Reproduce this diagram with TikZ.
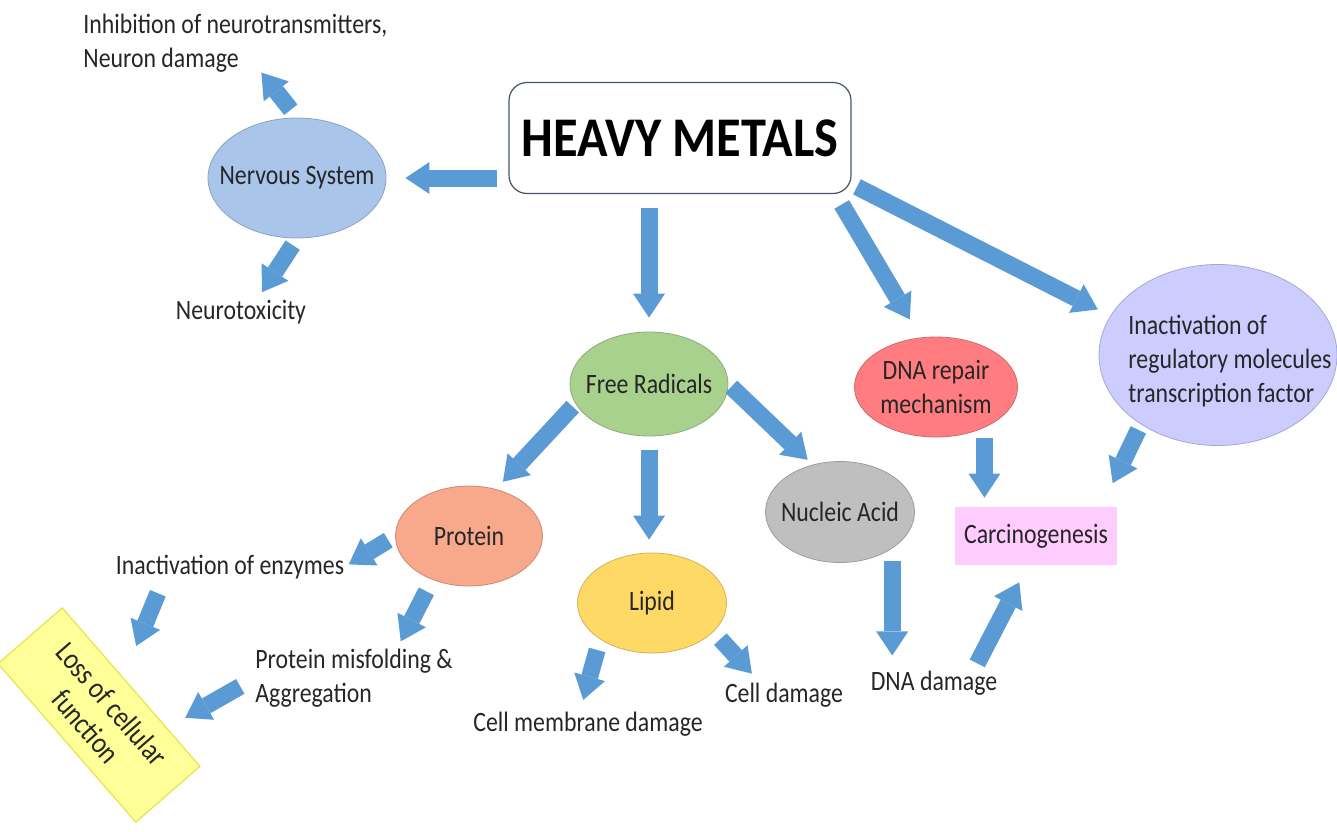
\documentclass[tikz,border=0pt]{standalone}
\usepackage{fontspec}
\setmainfont[FakeStretch=0.85]{Carlito}
\newfontfamily\headfont[FakeStretch=0.9]{Carlito}
\usetikzlibrary{arrows.meta,shapes.geometric}
\definecolor{arrowblue}{HTML}{5B9BD5}
\definecolor{txtgray}{HTML}{262626}
\definecolor{hmline}{HTML}{44546A}
\definecolor{nsblue}{HTML}{A9C6EA}
\definecolor{frgreen}{HTML}{A9D18E}
\definecolor{dnared}{HTML}{FF7C80}
\definecolor{inactlav}{HTML}{CCCCFF}
\definecolor{protsal}{HTML}{F8A98B}
\definecolor{lipidyel}{HTML}{FFD966}
\definecolor{nuclgray}{HTML}{BFBFBF}
\definecolor{carcpink}{HTML}{FFCCFF}
\definecolor{lossyel}{HTML}{FFFF99}
\definecolor{lossline}{HTML}{E5E54A}
\tikzset{every node/.style={text=txtgray,font=\fontsize{14}{17}\selectfont},
  blob/.style={ellipse,inner sep=0pt,fill=#1,draw=#1!82!black,line width=.4pt},
  plain/.style={inner sep=0pt},
  hmbox/.style={rectangle,rounded corners=9pt,draw=hmline,line width=.6pt,fill=white,
    minimum width=171pt,minimum height=55.5pt,text=black,
    font=\headfont\bfseries\fontsize{28}{30}\selectfont},
  flow/.style={-{Triangle[width=16pt,length=12pt,line width=0pt]},line width=8.5pt,draw=arrowblue}}

\begin{document}
\begin{tikzpicture}[x=0.5pt,y=-0.5pt]
  \useasboundingbox (0,0) rectangle (1337,831);
  % source box
  \node[hmbox] (hm) at (680,138) {HEAVY METALS};
  % nervous system branch
  \node[blob=nsblue,minimum width=89pt,minimum height=60pt,label=center:Nervous System] (nerv) at (297,178) {};
  \node[plain,align=left,anchor=west] (inhib) at (83,43) {Inhibition of neurotransmitters,\\Neuron damage};
  \node[plain] (ntox) at (241,312) {Neurotoxicity};
  % second row
  \node[blob=frgreen,minimum width=79pt,minimum height=52pt,label=center:Free Radicals] (frad) at (649,384) {};
  \node[blob=dnared,minimum width=81.5pt,minimum height=50pt,label={[align=center]center:DNA repair\\mechanism}] (dnarep) at (936,387) {};
  \node[blob=inactlav,minimum width=119pt,minimum height=90.5pt,
    label={[align=left,xshift=6pt,yshift=-3pt]center:Inactivation of\\regulatory molecules\\transcription factor}] (inact) at (1218,355) {};
  \node[rectangle,fill=carcpink,minimum width=81pt,minimum height=29pt] (carc) at (1036,536) {Carcinogenesis};
  % third row
  \node[blob=protsal,minimum width=73.5pt,minimum height=50pt,label=center:Protein] (prot) at (469,536) {};
  \node[blob=lipidyel,minimum width=74.5pt,minimum height=50pt,label=center:Lipid] (lipid) at (652,603) {};
  \node[blob=nuclgray,minimum width=74.5pt,minimum height=50.5pt,label=center:Nucleic Acid] (nucl) at (840,512) {};
  % outcomes
  \node[plain] (dnadmg) at (934,683) {DNA damage};
  \node[plain] (enz) at (230,567) {Inactivation of enzymes};
  \node[plain,align=left,anchor=west] (misf) at (255,678) {Protein misfolding \&\\Aggregation};
  \node[plain] (memb) at (588,724) {Cell membrane damage};
  \node[plain] (celldmg) at (784,695) {Cell damage};
  \node[rectangle,rotate=-49,fill=lossyel,draw=lossline,line width=.6pt,minimum width=105pt,minimum height=42.5pt,
    align=center,font=\fontsize{15}{17}\selectfont] (loss) at (99,715) {Loss of cellular\\function};
  % arrows
  \draw[flow,shorten <=5.5pt,shorten >=9.5pt] (hm.west |- nerv.east) -- (nerv.east);
  \draw[flow,shorten <=5pt] (nerv.north) -- ([xshift=13pt]inhib.south);
  \draw[flow,shorten <=4pt,shorten >=4.5pt] (nerv.south) -- ([xshift=8pt]ntox.north);
  \draw[flow,shorten <=7pt,shorten >=7pt] (hm.south -| frad.north) -- (frad.north);
  \draw[flow,shorten <=6pt,shorten >=10pt] ([xshift=-8pt]hm.south east) -- ([xshift=-8pt]dnarep.north);
  \draw[flow,shorten <=3pt,shorten >=7pt] ([yshift=5pt]hm.south east) -- (inact.160);
  \draw[flow,shorten <=5pt,shorten >=4.5pt] (dnarep.-40) -- (dnarep.-40 |- carc.north);
  \draw[flow,shorten <=3pt,shorten >=13pt] (inact.-138) -- ([xshift=-8pt]carc.north east);
  \draw[flow,shorten <=2pt,shorten >=5pt] (frad.-165) -- (prot.60);
  \draw[flow,shorten <=7pt,shorten >=6.5pt] (frad.south) -- (frad.south |- lipid.north);
  \draw[flow,shorten <=2pt,shorten >=3.5pt] (frad.east) -- (nucl.120);
  \draw[flow,shorten <=6pt,shorten >=7.5pt] (nucl.-35) -- (nucl.-35 |- dnadmg.north);
  \draw[flow,shorten <=4pt,shorten >=9.5pt] ([xshift=-12pt]dnadmg.north east) -- ([xshift=-4pt]carc.south);
  \draw[flow,shorten <=4pt,shorten >=2.5pt] (prot.west) -- (enz.east);
  \draw[flow,shorten <=6.5pt,shorten >=4pt] (prot.-130) -- ([xshift=-28pt]misf.north east);
  \draw[flow,shorten <=7.5pt,shorten >=22pt] ([xshift=24pt]enz.south west) -- ([xshift=-6pt]loss.north);
  \draw[flow,shorten <=8.5pt,shorten >=5pt] (misf.west) -- ([xshift=22.5pt,yshift=-18pt]loss.north);
  \draw[flow,shorten <=5.5pt,shorten >=6pt] (lipid.-145) -- ([xshift=-4pt]memb.north);
  \draw[flow,shorten <=5pt,shorten >=6pt] (lipid.-25) -- ([xshift=-12pt]celldmg.north);
\end{tikzpicture}
\end{document}
